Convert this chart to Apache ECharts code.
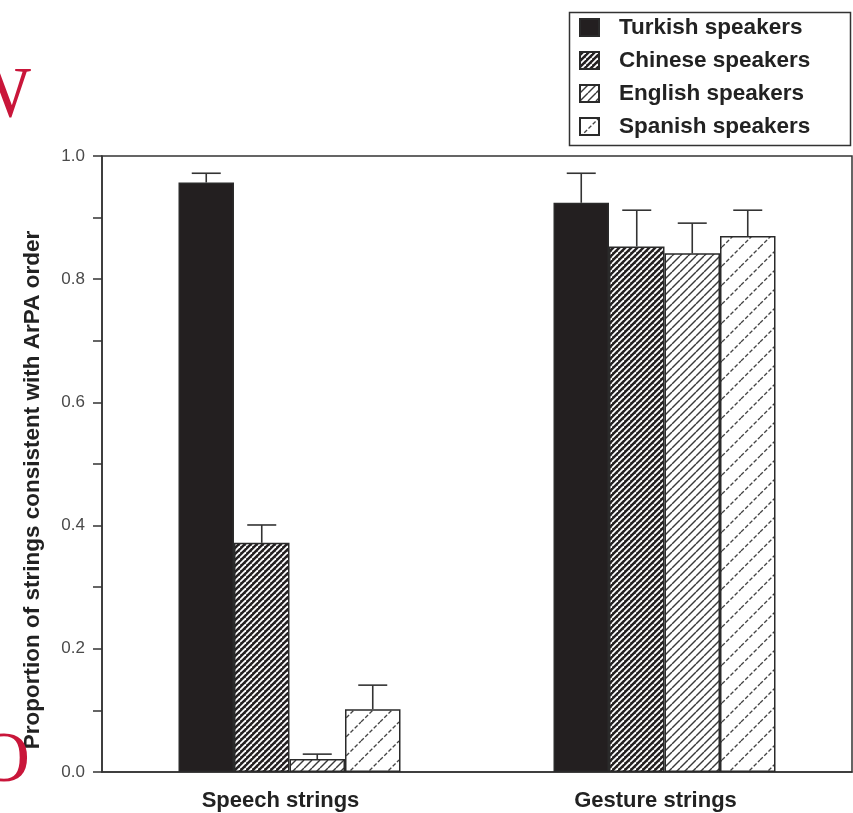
<!DOCTYPE html>
<html>
<head>
<meta charset="utf-8">
<script src="https://cdn.jsdelivr.net/npm/echarts@6/dist/echarts.min.js"></script>
<style>
html,body{margin:0;padding:0;background:#fff;}
#chart{width:853px;height:813px;}
</style>
</head>
<body>
<div id="chart"></div>
<script>
// ---- data ----
var categories = ['Speech strings', 'Gesture strings'];
var seriesNames = ['Turkish speakers', 'Chinese speakers', 'English speakers', 'Spanish speakers'];
var turkish = [0.957, 0.924];
var chinese = [0.372, 0.853];
var english = [0.021, 0.842];
var spanish = [0.102, 0.870];
var turkishUpper = [0.972, 0.972];
var chineseUpper = [0.401, 0.912];
var englishUpper = [0.029, 0.891];
var spanishUpper = [0.141, 0.912];

// ---- patterns ----
function hatch(size, bg, fg, lw, dash) {
  var c = document.createElement('canvas');
  c.width = size; c.height = size;
  var g = c.getContext('2d');
  g.fillStyle = bg; g.fillRect(0, 0, size, size);
  g.strokeStyle = fg; g.lineWidth = lw;
  if (dash) g.setLineDash(dash);
  for (var k = -1; k <= 1; k++) {
    g.beginPath();
    g.moveTo(k * size, size);
    g.lineTo(k * size + size, 0);
    g.stroke();
  }
  return {image: c, repeat: 'repeat'};
}
var fills = [
  '#231f20',
  hatch(6, '#231f20', '#ffffff', 1.8),
  hatch(8, '#ffffff', '#3a3a3a', 1.4),
  hatch(19, '#ffffff', '#444444', 1.3, [4, 2])
];
var values = [turkish, chinese, english, spanish];
var uppers = [turkishUpper, chineseUpper, englishUpper, spanishUpper];

var BAR_W = 55.5;
var series = [];
for (var i = 0; i < 4; i++) {
  series.push({
    name: seriesNames[i],
    type: 'bar',
    data: values[i],
    barWidth: BAR_W,
    barGap: '0%',
    itemStyle: {color: fills[i], borderColor: '#2a2a2a', borderWidth: 1.5},
    emphasis: {disabled: true}
  });
}
var errData = [];
for (var s = 0; s < 4; s++) {
  for (var c = 0; c < categories.length; c++) {
    errData.push([c, s, values[s][c], uppers[s][c]]);
  }
}
series.push({
  type: 'custom',
  data: errData,
  silent: true,
  z: 5,
  renderItem: function (params, api) {
    var ci = api.value(0), si = api.value(1);
    var p0 = api.coord([ci, api.value(2)]);
    var p1 = api.coord([ci, api.value(3)]);
    var x = p0[0] + (si - 1.5) * BAR_W;
    var half = 14.5;
    var st = {stroke: '#333', lineWidth: 1.6};
    return {
      type: 'group',
      children: [
        {type: 'line', shape: {x1: x, y1: p0[1], x2: x, y2: p1[1]}, style: st},
        {type: 'line', shape: {x1: x - half, y1: p1[1], x2: x + half, y2: p1[1]}, style: st}
      ]
    };
  }
});

var chart = echarts.init(document.getElementById('chart'));
chart.setOption({
  animation: false,
  backgroundColor: '#fff',
  grid: {left: 102, right: 1, top: 156, bottom: 41, show: true, borderColor: '#333', borderWidth: 1.5},
  legend: {
    data: seriesNames,
    orient: 'vertical',
    left: 579, top: 16,
    itemWidth: 19, itemHeight: 17, itemGap: 10,
    padding: 0,
    icon: 'rect',
    selectedMode: false,
    textStyle: {fontFamily: 'Liberation Sans, Arial, sans-serif', fontWeight: 'bold', fontSize: 22.5, lineHeight: 22, color: '#222', padding: [0, 0, 0, 15]}
  },
  xAxis: {
    type: 'category',
    data: categories,
    axisTick: {show: false},
    axisLine: {lineStyle: {color: '#333', width: 1.5}},
    axisLabel: {fontFamily: 'Liberation Sans, Arial, sans-serif', fontWeight: 'bold', fontSize: 22, color: '#222', margin: 18, padding: [0, 18, 0, 0]}
  },
  yAxis: {
    type: 'value',
    min: 0, max: 1, interval: 0.1,
    splitLine: {show: false},
    axisLine: {show: true, lineStyle: {color: '#333', width: 1.5}},
    axisTick: {show: true, length: 9, lineStyle: {color: '#333', width: 1.5}},
    axisLabel: {
      margin: 17, fontFamily: 'Liberation Sans, Arial, sans-serif', fontSize: 17, color: '#4a4a4a',
      formatter: function (v) {
        var k = Math.round(v * 10);
        return k % 2 === 0 ? (k / 10).toFixed(1) : '';
      }
    }
  },
  graphic: [
    {type: 'rect', left: 567, top: 10, shape: {x: 0, y: 0, width: 281, height: 133}, style: {fill: 'none', stroke: '#333', lineWidth: 1.5}, silent: true},
    {type: 'text', x: 33, y: 490, rotation: Math.PI / 2,
      style: {text: 'Proportion of strings consistent with ArPA order', fontFamily: 'Liberation Sans, Arial, sans-serif', fontWeight: 'bold', fontSize: 22.5, fill: '#222', align: 'center', verticalAlign: 'middle'}},
    {type: 'text', x: 31, y: 97, style: {text: 'W', fontFamily: 'Liberation Serif, serif', fontSize: 72, fill: '#c9163a', align: 'right', verticalAlign: 'middle'}},
    {type: 'text', x: 30, y: 762, style: {text: 'O', fontFamily: 'Liberation Serif, serif', fontSize: 72, fill: '#c9163a', align: 'right', verticalAlign: 'middle'}}
  ],
  series: series
});
</script>
</body>
</html>
